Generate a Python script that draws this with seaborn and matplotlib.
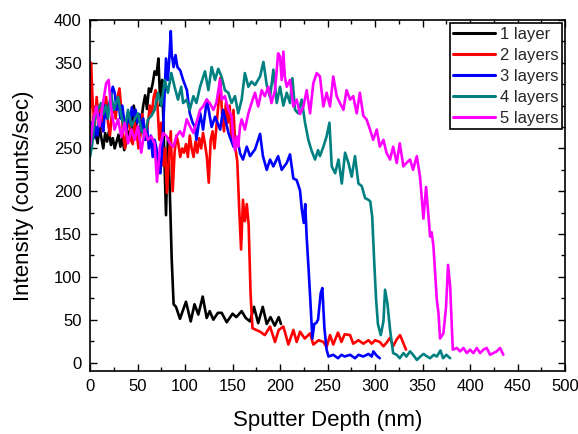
import matplotlib
matplotlib.use("Agg")
import matplotlib.pyplot as plt
from matplotlib.ticker import MultipleLocator
import pandas as pd
import seaborn as sns

# Depth profiles (sputter depth in nm, intensity in counts/sec)
depth_1 = [0, 2, 4, 6, 8, 10, 12, 14, 16, 18, 20, 22, 24, 26, 28, 30, 32, 34, 36, 38,
           40, 42, 44, 46, 48, 50, 52, 54, 56, 58, 60, 62, 64, 66, 68, 70, 72, 74, 76, 78,
           80, 82, 84, 86, 88, 90.5, 94.7, 101, 106, 110, 114, 118.6, 122.8, 126, 129.8,
           134.6, 138.6, 143.9, 150, 154, 159.6, 163.9, 168.4, 172.6, 177, 181.8, 186, 190,
           194.4, 198.6, 201]
inten_1 = [280, 272, 288, 266, 256, 276, 262, 250, 268, 258, 270, 254, 262, 250, 258, 266, 252, 262, 248, 256,
           270, 262, 276, 300, 288, 266, 272, 282, 300, 312, 296, 320, 316, 326, 340, 336, 355, 300, 330, 250,
           172, 262, 200, 120, 68, 65, 51, 71, 48, 68, 56, 77, 52, 60, 50,
           58, 58, 47, 57, 53, 60, 52, 48, 65, 46, 65, 45, 53,
           43, 53, 45]

depth_2 = [0, 1, 3, 5, 7, 9, 11, 13, 15, 17, 19, 21, 23, 25, 27, 29, 31, 33, 35, 37,
           39, 41, 43, 45, 47, 49, 51, 53, 55, 57, 59, 61, 63, 65, 67, 69, 71, 73, 75, 77,
           79, 81, 83, 85, 87, 89, 91, 93, 95, 97, 99, 101, 103, 105, 107, 109, 111, 113, 115, 117,
           119, 121, 123, 125, 127, 129, 131, 133, 135, 137, 139, 141, 143, 145, 147, 149, 151, 153, 155, 157,
           159, 161, 163, 165, 167, 169, 171, 175, 179, 184, 189.5, 194.7, 198.6, 203.5, 208.8, 214, 217.5, 221, 226, 231.6,
           235, 240.6, 245.6, 249, 252.6, 256, 261, 264.6, 268, 273.7, 277, 282.5, 287.7, 293, 296.5, 300, 305, 308.8, 312, 315.8,
           319, 322.8, 326.3, 330, 332.6]
inten_2 = [280, 350, 300, 275, 310, 285, 300, 270, 295, 310, 280, 265, 290, 300, 285, 310, 320, 295, 265, 250,
           275, 290, 260, 255, 280, 270, 250, 265, 290, 275, 260, 280, 300, 290, 310, 318, 300, 260, 280, 230,
           250, 198, 240, 270, 200, 245, 265, 255, 240, 250, 245, 255, 240, 265, 250, 240, 258, 245, 262, 250,
           268, 255, 240, 210, 260, 270, 250, 275, 300, 332, 290, 270, 303, 280, 300, 260, 295, 250, 235, 180,
           132, 190, 165, 185, 160, 80, 40, 38, 36, 32, 42, 24, 38, 42, 21, 38, 24, 36, 28, 34,
           21, 26, 24, 18, 32, 21, 35, 24, 33, 32, 22, 26, 22, 26, 22, 26, 24, 19, 23, 29,
           19, 27, 32, 22, 15]

depth_3 = [0, 2, 4, 6, 8, 10, 12, 14, 16, 18, 20, 22, 24, 26, 28, 30, 32, 34, 36, 38,
           40, 42, 44, 46, 48, 50, 52, 54, 56, 58, 60, 62, 64, 66, 68, 70, 72, 74, 76, 78,
           80, 82, 84, 85, 86, 88, 90, 92, 95, 98, 102, 105, 108, 110.5, 112, 116, 119, 123, 128, 131.6,
           137, 140, 146, 151, 156, 158, 161, 165, 168.4, 173.7, 179, 182, 186, 189.5, 193, 198, 201.7, 207, 210.5, 214,
           217.5, 221, 223, 225, 226.5, 228, 230, 232, 234, 236, 238, 240, 242.8, 244.5, 246.7, 249, 251, 256, 261, 264.6,
           268, 273.7, 279, 282.5, 287.7, 293, 296.5, 298.2, 301.7, 305]
inten_3 = [270, 280, 262, 275, 265, 290, 278, 270, 300, 285, 300, 310, 322, 315, 295, 305, 285, 300, 282, 270,
           292, 280, 298, 288, 295, 280, 290, 270, 285, 260, 275, 250, 265, 240, 260, 250, 228, 221, 250, 300,
           355, 330, 365, 387, 360, 345, 359, 345, 341, 330, 318, 291, 280, 275, 260, 291, 272, 307, 275, 287,
           272, 295, 267, 252, 256, 244, 237, 252, 241, 249, 267, 241, 225, 237, 229, 241, 225, 233, 243, 215,
           213, 201, 178, 163, 185, 147, 110, 70, 28, 45, 46, 50, 81, 87, 40, 15, 7, 9, 5, 9,
           7, 9, 5, 9, 7, 10, 7, 13, 8, 5]

depth_4 = [0, 2, 5, 8, 11.6, 14, 17, 19, 22, 25, 29.5, 33, 36.5, 40, 43.5, 47, 50.5, 54, 57.5, 61,
           64.6, 68, 71.6, 75, 78.6, 82, 85.6, 89, 92.6, 96, 98, 101.8, 105, 108.8, 112, 115.8, 121, 124.6, 128, 131.6,
           135, 138.6, 142, 145.6, 149, 152.6, 156, 159.6, 163, 166.7, 170, 173.7, 179, 182.5, 186, 189.5, 193, 196.5, 200, 203.5,
           207, 210.5, 213, 215.8, 219, 222.8, 226.3, 229.8, 233, 236.8, 240, 242, 245.6, 249, 252, 254.4, 258, 261.5, 265, 268.4,
           272, 275.4, 278.9, 282.5, 286, 289.5, 293, 295, 297, 299, 301, 303, 306, 308.8, 310.5, 313, 315.8, 319, 322.8, 326,
           329.8, 333, 336.8, 340, 344, 347.7, 351, 354.8, 358, 361.8, 365, 368.8, 371.6, 375, 379]
inten_4 = [240, 252, 283, 295, 303, 290, 300, 285, 315, 295, 310, 288, 272, 295, 276, 284, 291, 272, 264, 284,
           288, 295, 315, 300, 330, 315, 338, 322, 307, 322, 303, 307, 295, 311, 303, 322, 340, 318, 345, 330,
           343, 333, 318, 315, 303, 311, 291, 307, 338, 322, 328, 324, 334, 351, 324, 310, 342, 303, 322, 300,
           315, 303, 332, 295, 291, 307, 280, 260, 248, 237, 248, 241, 252, 264, 280, 229, 221, 237, 209, 245,
           233, 217, 241, 209, 206, 192, 190, 188, 170, 120, 75, 45, 32, 48, 85, 69, 38, 11, 9, 5,
           11, 7, 13, 9, 3, 7, 10, 7, 5, 9, 7, 14, 5, 9, 5]

depth_5 = [0, 3, 6.7, 10, 13.7, 17, 19.6, 22, 25.8, 29.5, 33, 36.5, 40, 43.5, 47, 50.5, 54, 57.5, 61, 64.6,
           68, 70.5, 73.7, 77, 80.7, 84, 87.7, 91, 94.7, 98, 101.8, 105, 108.8, 112, 115.8, 119, 122.8, 126, 129.8, 133,
           136.8, 138.6, 142, 145.6, 149, 150.9, 152.6, 154.4, 156, 157.9, 159.6, 163, 166.7, 170, 173.7, 177, 180.7, 184, 187.7, 191,
           194.7, 198, 200, 201.7, 203.5, 205, 207, 210.5, 214, 217.5, 221, 224.6, 228, 231.6, 235, 238.6, 242, 245.6, 249, 252.6,
           256, 259.6, 263, 266.7, 270, 273.7, 277, 280.7, 284, 287.7, 291, 294.7, 298, 301.8, 305, 308.8, 312, 315.8, 319, 322.8,
           326, 329.8, 333, 336.8, 340, 343.9, 347.3, 350.9, 353.7, 357.9, 359.6, 361.4, 365, 366.7, 368.4, 371.9, 374.7, 376.8, 379, 381.8,
           386, 389.5, 393, 396.5, 400, 403.5, 407, 410.5, 414, 417.5, 421, 424.6, 428, 431.6, 435]
inten_5 = [252, 280, 299, 276, 303, 326, 330, 299, 272, 284, 264, 280, 256, 272, 260, 276, 245, 272, 260, 264,
           256, 211, 252, 268, 264, 256, 252, 264, 270, 264, 284, 276, 268, 280, 295, 299, 307, 303, 295, 303,
           330, 307, 311, 295, 288, 260, 248, 264, 252, 276, 284, 272, 291, 303, 315, 299, 318, 311, 322, 303,
           318, 361, 357, 330, 363, 334, 322, 330, 299, 307, 290, 299, 318, 291, 326, 338, 334, 299, 315, 299,
           334, 311, 303, 295, 318, 307, 311, 291, 315, 288, 284, 272, 260, 272, 252, 260, 245, 237, 252, 233,
           256, 229, 233, 237, 225, 241, 217, 168, 205, 147, 152, 136, 73, 58, 28, 34, 65, 114, 89, 15,
           17, 13, 17, 11, 15, 11, 17, 11, 15, 17, 9, 11, 13, 17, 9]

labels = ["1 layer", "2 layers", "3 layers", "4 layers", "5 layers"]
colors = ["#000000", "#ff0000", "#0000ff", "#008080", "#ff00ff"]

frames = []
for lab, d, v in zip(labels,
                     [depth_1, depth_2, depth_3, depth_4, depth_5],
                     [inten_1, inten_2, inten_3, inten_4, inten_5]):
    frames.append(pd.DataFrame({"depth": d, "intensity": v, "sample": lab}))
df = pd.concat(frames, ignore_index=True)

sns.set_theme(style="ticks")
plt.rcParams["font.family"] = ["Liberation Sans", "DejaVu Sans"]

fig = plt.figure(figsize=(5.78, 4.34), dpi=100)
ax = fig.add_axes([0.1557, 0.145, 0.822, 0.809])

sns.lineplot(data=df, x="depth", y="intensity", hue="sample", hue_order=labels,
             palette=colors, sort=False, estimator=None, linewidth=1.9, ax=ax)

ax.set_xlim(0, 500)
ax.set_ylim(-10, 400)
ax.xaxis.set_major_locator(MultipleLocator(50))
ax.xaxis.set_minor_locator(MultipleLocator(25))
ax.yaxis.set_major_locator(MultipleLocator(50))
ax.yaxis.set_minor_locator(MultipleLocator(25))
ax.tick_params(which="both", direction="in", top=True, right=True, color="black", width=1)
ax.tick_params(which="major", length=5, labelsize=12, colors="black", pad=6)
ax.tick_params(which="minor", length=3)
for sp in ax.spines.values():
    sp.set_visible(True)
    sp.set_color("black")
    sp.set_linewidth(1.2)

ax.set_xlabel("Sputter Depth (nm)", fontsize=16, labelpad=11, color="black")
ax.set_ylabel("Intensity (counts/sec)", fontsize=16, labelpad=14, color="black")

leg = ax.legend(loc="upper right", fontsize=12, frameon=True, fancybox=False,
                edgecolor="black", framealpha=1, borderaxespad=0.2,
                handlelength=2.5, handletextpad=0.3, labelspacing=0.36, borderpad=0.2)
leg.get_frame().set_linewidth(1.2)
for line in leg.get_lines():
    line.set_linewidth(2.2)

fig.savefig("out.png", dpi=100)
